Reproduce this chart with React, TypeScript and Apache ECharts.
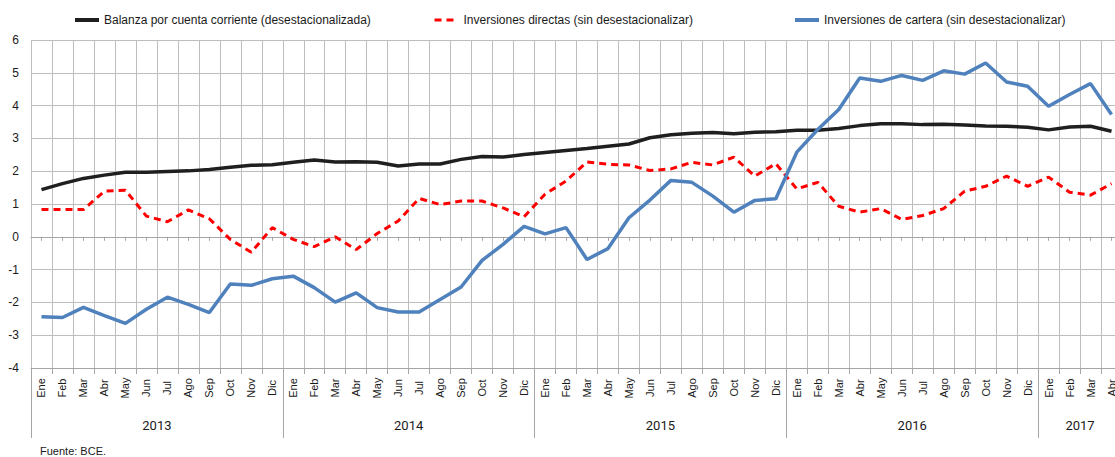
import React, { useEffect, useRef } from "react";
import * as echarts from "echarts";

const months = ["Ene","Feb","Mar","Abr","May","Jun","Jul","Ago","Sep","Oct","Nov","Dic"];
const years = ["2013", "2014", "2015", "2016", "2017"];
const monthsPerYear = [12, 12, 12, 12, 4];
const yTicks = { min: -4, max: 6, interval: 1 };

const balanza = [
  1.44, 1.62, 1.78, 1.88, 1.97, 1.97, 1.99, 2.01, 2.05, 2.12, 2.18, 2.2,
  2.27, 2.34, 2.28, 2.29, 2.27, 2.16, 2.22, 2.22, 2.36, 2.45, 2.43, 2.51,
  2.57, 2.63, 2.69, 2.76, 2.83, 3.02, 3.11, 3.16, 3.18, 3.14, 3.19, 3.2,
  3.25, 3.25, 3.3, 3.39, 3.45, 3.45, 3.42, 3.43, 3.41, 3.38, 3.37, 3.34,
  3.26, 3.35, 3.37, 3.22,
];
const directas = [
  0.83, 0.83, 0.83, 1.39, 1.42, 0.63, 0.46, 0.82, 0.55, -0.08, -0.47, 0.28,
  -0.08, -0.3, 0.0, -0.39, 0.1, 0.48, 1.17, 0.98, 1.09, 1.09, 0.88, 0.61,
  1.3, 1.7, 2.28, 2.21, 2.19, 2.02, 2.07, 2.27, 2.19, 2.43, 1.85, 2.23,
  1.46, 1.66, 0.93, 0.75, 0.86, 0.53, 0.65, 0.86, 1.39, 1.54, 1.85, 1.54,
  1.82, 1.36, 1.27, 1.62,
];
const cartera = [
  -2.44, -2.46, -2.15, -2.4, -2.64, -2.21, -1.84, -2.06, -2.31, -1.44, -1.48, -1.28,
  -1.2, -1.55, -1.99, -1.71, -2.16, -2.29, -2.29, -1.91, -1.53, -0.72, -0.23, 0.32,
  0.09, 0.28, -0.69, -0.36, 0.58, 1.12, 1.72, 1.66, 1.24, 0.75, 1.11, 1.16,
  2.58, 3.27, 3.88, 4.84, 4.74, 4.92, 4.77, 5.06, 4.96, 5.3, 4.72, 4.59,
  3.98, 4.34, 4.67, 3.73,
];

const seriesNames = [
  "Balanza por cuenta corriente (desestacionalizada)",
  "Inversiones directas (sin desestacionalizar)",
  "Inversiones de cartera (sin desestacionalizar)",
];

export default function App() {
  const ref = useRef<HTMLDivElement>(null);

  useEffect(() => {
    if (!ref.current) return;
    const chart = echarts.init(ref.current, null, { renderer: "svg" });

    const monthLabels: string[] = [];
    monthsPerYear.forEach((n) => {
      for (let m = 0; m < n; m++) monthLabels.push(months[m]);
    });
    const total = monthLabels.length;
    const yearAxisData: string[] = new Array(total * 2 + 1).fill("");
    const boundaries = new Set<number>();
    let start = 0;
    years.forEach((y, k) => {
      boundaries.add(start * 2);
      yearAxisData[start * 2 + monthsPerYear[k]] = y;
      start += monthsPerYear[k];
    });
    boundaries.add(start * 2);

    const gridColor = "#bdbdbd";
    const axisColor = "#a6a6a6";
    const font = "'Liberation Sans', Arial, sans-serif";

    const legendBase = {
      itemWidth: 24,
      itemHeight: 10,
      itemGap: 4,
      padding: 0,
      top: 14,
      itemStyle: { opacity: 0 },
      textStyle: { fontSize: 12, color: "#1a1a1a", fontFamily: font },
    };

    chart.setOption({
      animation: false,
      backgroundColor: "#ffffff",
      legend: [
        { ...legendBase, left: 73, data: [seriesNames[0]], lineStyle: { width: 4 } },
        { ...legendBase, left: 433, data: [seriesNames[1]], lineStyle: { width: 3 } },
        { ...legendBase, left: 793, data: [seriesNames[2]], lineStyle: { width: 4 } },
      ],
      grid: { left: 31, right: 0, top: 40, bottom: 89, containLabel: false },
      xAxis: [
        {
          type: "category",
          position: "bottom",
          data: monthLabels,
          boundaryGap: true,
          axisLine: { onZero: false, lineStyle: { color: axisColor, width: 1 } },
          axisTick: { show: true, interval: 0, length: 6, lineStyle: { color: axisColor } },
          splitLine: { show: true, interval: 0, lineStyle: { color: gridColor, width: 1 } },
          axisLabel: {
            interval: 0,
            rotate: 90,
            align: "center",
            verticalAlign: "middle",
            margin: 20,
            fontSize: 11,
            color: "#1a1a1a",
            fontFamily: font,
          },
        },
        {
          type: "category",
          position: "top",
          data: monthLabels,
          boundaryGap: true,
          axisLine: { show: true, onZero: true, lineStyle: { color: axisColor, width: 1 } },
          axisTick: { show: true, inside: true, alignWithLabel: true, interval: 0, length: 4, lineStyle: { color: axisColor } },
          axisLabel: { show: false },
          splitLine: { show: false },
        },
        {
          type: "category",
          position: "bottom",
          data: yearAxisData,
          boundaryGap: false,
          axisLine: { show: false, onZero: false },
          axisTick: {
            show: true,
            length: 70,
            interval: (index: number) => boundaries.has(index),
            lineStyle: { color: axisColor, width: 1 },
          },
          axisLabel: {
            interval: 0,
            margin: 51,
            fontSize: 13,
            color: "#1a1a1a",
            fontFamily: "Roboto, 'Liberation Sans', sans-serif",
          },
          splitLine: { show: false },
        },
      ],
      yAxis: {
        type: "value",
        min: yTicks.min,
        max: yTicks.max,
        interval: yTicks.interval,
        axisLine: { show: false },
        axisTick: { show: false },
        splitLine: { show: true, lineStyle: { color: gridColor, width: 1 } },
        axisLabel: { fontSize: 12, color: "#1a1a1a", margin: 12, fontFamily: font },
      },
      series: [
        {
          name: seriesNames[0],
          type: "line",
          xAxisIndex: 0,
          data: balanza,
          symbol: "none",
          lineStyle: { color: "#1f1f1f", width: 3.5 },
          itemStyle: { color: "#1f1f1f" },
          z: 3,
        },
        {
          name: seriesNames[1],
          type: "line",
          xAxisIndex: 0,
          data: directas,
          symbol: "none",
          lineStyle: { color: "#ff0000", width: 3, type: [7, 5] },
          itemStyle: { color: "#ff0000" },
          z: 4,
        },
        {
          name: seriesNames[2],
          type: "line",
          xAxisIndex: 0,
          data: cartera,
          symbol: "none",
          lineStyle: { color: "#4f81bd", width: 3.5 },
          itemStyle: { color: "#4f81bd" },
          z: 5,
        },
      ],
      graphic: [
        {
          type: "text",
          left: 40,
          top: 445,
          style: { text: "Fuente: BCE.", fontSize: 11, fill: "#1a1a1a", fontFamily: font },
        },
      ],
    });

    return () => chart.dispose();
  }, []);

  return (
    <div style={{ position: "fixed", left: 0, top: 0, width: 1115, height: 457, overflow: "hidden", background: "#fff" }}>
      <div ref={ref} style={{ position: "absolute", left: 0, top: 0, width: 1125, height: 457 }} />
    </div>
  );
}
